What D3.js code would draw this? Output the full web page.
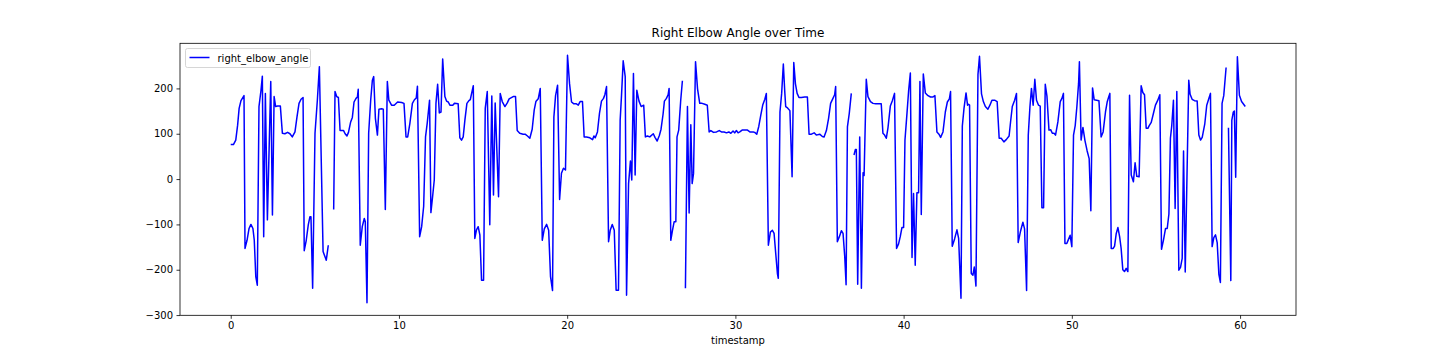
<!DOCTYPE html>
<html>
<head>
<meta charset="utf-8">
<script src="https://cdn.jsdelivr.net/npm/d3@7"></script>
<style>
  html, body { margin: 0; padding: 0; background: #fff; }
  svg text { font-family: "DejaVu Sans", sans-serif; fill: #000; }
</style>
</head>
<body>
<svg id="chart" width="1440" height="360"></svg>
<script>
// ---- data (null marks a gap in the recording) ----
const title = "Right Elbow Angle over Time";
const xLabel = "timestamp";
const seriesName = "right_elbow_angle";
const xTicks = [0, 10, 20, 30, 40, 50, 60];
const yTicks = [-300, -200, -100, 0, 100, 200];

const timestamps = [
  0.00,0.16,0.30,0.41,0.50,0.61,0.79,0.85,0.97,1.09,1.20,1.32,1.40,1.49,1.58,1.68,1.80,1.88,1.96,2.06,2.18,2.38,2.48,2.58,2.67,2.79,2.95,
  3.07,3.22,3.38,3.52,3.66,3.82,3.94,4.06,4.18,4.30,4.37,4.49,4.61,4.71,4.77,4.87,5.01,5.15,5.27,5.49,5.60,5.68,5.80,
  null,
  6.12,6.20,6.30,6.40,6.50,6.60,6.71,6.80,6.91,7.00,7.13,7.23,7.33,7.45,7.53,7.58,7.70,7.82,7.94,8.00,8.10,8.20,8.32,8.42,8.50,8.60,8.72,8.81,8.97,9.07,9.19,9.31,9.40,9.56,9.72,9.92,
  10.16,10.30,10.42,10.52,10.65,10.80,10.92,11.03,11.10,11.23,11.35,11.47,11.58,11.68,11.82,11.90,12.00,12.10,12.20,12.30,12.40,12.50,12.60,12.73,12.83,12.93,13.03,13.20,13.30,13.52,13.62,13.72,13.82,13.92,
  14.04,14.16,14.24,14.32,14.42,14.51,14.61,14.71,14.81,14.91,15.03,15.13,15.25,15.40,15.52,15.62,15.72,15.92,16.02,16.14,16.30,16.44,16.55,16.79,16.93,17.03,17.18,17.38,17.50,17.64,17.78,17.92,
  18.04,18.14,18.28,18.40,18.52,18.64,18.78,18.90,19.01,19.13,19.21,19.31,19.43,19.55,19.66,19.78,19.90,20.02,20.14,20.26,20.40,20.55,20.66,20.77,20.91,21.01,21.15,21.35,21.51,21.59,21.67,21.80,21.92,
  22.04,22.16,22.24,22.34,22.46,22.56,22.68,22.80,22.91,23.05,23.15,23.23,23.33,23.45,23.53,23.65,23.76,23.84,23.94,24.04,24.14,24.27,24.40,24.55,24.65,24.77,24.91,25.12,25.22,25.35,25.48,25.58,25.70,25.78,25.90,
  26.00,26.06,26.16,26.26,26.36,26.46,26.53,26.63,26.75,26.85,
  null,
  27.03,27.15,27.25,27.35,27.43,27.51,27.63,27.75,27.88,28.02,28.18,28.33,28.44,28.54,28.70,28.88,29.04,29.17,29.33,29.47,29.61,29.73,29.86,29.96,30.06,30.16,30.26,30.40,30.56,30.72,30.86,31.06,31.15,31.27,
  31.39,31.51,31.63,31.75,31.84,31.96,32.08,32.20,32.30,32.40,32.50,32.55,32.65,32.75,32.85,32.93,32.99,33.10,33.24,33.37,33.47,33.57,33.67,33.78,33.92,34.12,34.28,34.38,34.52,34.68,34.81,35.01,35.17,35.27,35.41,
  35.54,35.66,35.80,35.90,35.96,36.06,36.18,36.30,36.40,36.50,36.58,36.66,36.77,36.89,
  null,
  37.05,37.13,37.19,37.27,37.39,37.49,37.59,37.65,37.78,37.88,38.03,38.18,38.34,38.47,38.67,38.77,38.87,38.97,39.07,39.21,39.33,39.46,39.58,39.70,39.80,39.90,40.00,40.08,40.20,40.30,40.40,40.50,40.59,40.69,40.79,40.89,40.97,
  41.05,41.17,41.29,41.45,41.60,41.73,41.86,41.98,42.10,42.20,42.34,42.48,42.60,42.72,42.79,42.89,43.03,43.17,43.27,43.41,43.49,43.59,43.71,43.80,43.86,43.92,44.02,44.12,44.20,44.30,44.42,44.51,44.63,44.74,44.86,
  45.01,45.13,45.25,45.41,45.56,45.68,45.80,45.96,46.10,46.27,46.36,46.46,46.60,46.71,46.81,46.95,47.09,47.19,47.31,47.41,47.51,47.60,47.70,47.80,47.90,48.02,48.12,48.22,48.32,48.42,48.52,48.64,48.74,48.84,48.94,
  49.03,49.17,49.31,49.41,49.50,49.59,49.70,49.80,49.90,50.00,50.10,50.20,50.30,50.40,50.45,50.55,50.66,50.78,50.91,51.03,51.13,51.23,51.33,51.47,51.61,51.74,51.86,52.00,52.10,52.20,52.26,52.34,52.46,52.54,52.64,
  52.74,52.84,52.93,53.03,53.13,53.23,53.33,53.43,53.53,53.66,53.76,53.86,54.00,54.12,54.22,54.32,54.42,54.52,54.60,54.72,54.87,54.97,55.11,55.23,55.33,55.45,55.57,55.67,55.77,55.86,55.94,56.04,56.14,56.24,
  56.36,56.46,56.56,56.64,56.74,56.95,57.03,57.15,57.29,57.45,57.55,57.65,57.75,57.90,58.02,58.14,58.24,58.34,58.44,58.54,58.64,58.74,58.83,58.93,59.03,59.17,
  null,
  59.31,59.45,59.51,59.60,59.66,59.74,59.84,59.96,60.09,60.31
];

const angles = [
  76,76,86,119,156,173,184,-153,-135,-109,-100,-109,-135,-215,-234,160,196,227,-127,189,-90,215,-79,182,160,161,161,
  101,100,103,100,93,104,137,167,176,180,-158,-135,-101,-83,-83,-241,101,174,248,-160,-171,-179,-146,
  null,
  -67,193,182,180,107,107,107,100,95,103,126,136,170,178,181,198,-146,-105,-87,-94,-273,101,174,218,226,134,97,154,155,154,-67,215,174,163,163,170,
  169,167,93,93,123,167,175,179,205,-127,-105,-60,93,123,174,-74,-39,-2,167,209,146,148,265,182,172,170,163,163,167,166,91,86,93,130,
  167,173,175,189,206,-131,-112,-105,-123,-223,-223,156,193,-101,183,-35,168,-39,189,171,160,168,177,182,182,107,101,99,99,95,90,110,
  152,171,177,200,-135,-110,-100,-113,-215,-246,137,184,207,-45,13,24,20,273,211,170,166,166,163,171,171,93,93,91,87,95,91,104,145,
  172,178,186,204,-138,-113,-100,-113,-245,-245,130,184,261,226,-256,-10,40,-2,233,9,196,172,160,163,93,95,93,100,92,84,96,110,143,172,178,
  186,200,-135,-113,-94,-94,93,108,174,217,
  null,
  -241,160,-75,120,-10,12,259,199,167,167,165,163,104,107,103,104,107,104,104,102,104,101,106,102,107,102,104,108,108,108,104,104,103,99,
  116,141,164,176,189,-146,-117,-113,-120,-165,-209,-219,148,189,254,196,160,157,151,5,257,210,189,180,180,181,181,99,99,102,97,99,94,93,107,
  134,167,178,186,204,-138,-127,-114,-120,-171,-233,115,145,189,
  null,
  53,65,65,-232,93,-241,14,8,220,182,171,167,166,166,166,101,97,90,113,161,173,189,-153,-143,-127,-107,-107,86,145,196,234,-173,-32,-190,-30,-30,215,
  -78,232,190,184,181,181,184,104,99,92,104,148,170,177,193,-148,-132,-112,-131,-263,117,156,190,163,165,163,-208,-212,-194,-236,231,271,188,171,160,
  154,163,174,174,171,90,90,82,87,95,127,160,174,189,-140,-115,-95,-110,-246,97,160,200,163,220,174,163,161,-63,-63,209,183,108,109,101,101,
  97,126,171,178,189,-142,-142,-133,-124,-149,97,118,160,211,259,86,114,85,62,45,-70,201,175,174,173,93,104,148,170,182,189,-153,-153,-148,-120,
  -107,-127,-153,-200,-204,-197,-204,185,9,-6,36,6,5,206,191,186,112,112,118,125,148,163,174,186,-155,-134,-109,-109,-77,90,118,174,-65,193,
  -201,-195,-175,62,-205,218,187,176,173,172,97,86,92,121,163,177,189,-149,-129,-123,-140,-210,-228,167,184,246,
  null,
  113,-224,130,148,150,4,270,185,171,160
];

// ---- layout ----
const W = 1440, H = 360;
const plot = { left: 180, right: 1296, top: 43.3, bottom: 315.3 };

const svg = d3.select("#chart");
svg.append("rect").attr("width", W).attr("height", H).attr("fill", "#fff");

const data = timestamps.map((t, i) => ({ t, v: angles[i] }));

const x = d3.scaleLinear().domain([-3.015, 63.325]).range([plot.left, plot.right]);
const y = d3.scaleLinear().domain([-300.5, 299.5]).range([plot.bottom, plot.top]);

// clip
svg.append("clipPath").attr("id", "clip")
  .append("rect")
  .attr("x", plot.left).attr("y", plot.top)
  .attr("width", plot.right - plot.left).attr("height", plot.bottom - plot.top);

const line = d3.line()
  .defined(d => d.t != null && d.v != null)
  .x(d => x(d.t))
  .y(d => y(d.v));

svg.append("path")
  .datum(data)
  .attr("clip-path", "url(#clip)")
  .attr("fill", "none")
  .attr("stroke", "#0000ff")
  .attr("stroke-width", 1.5)
  .attr("stroke-linejoin", "round")
  .attr("d", line);

// axes
const xAxis = d3.axisBottom(x).tickValues(xTicks).tickSize(3.5).tickPadding(3.5).tickFormat(d3.format("d"));
const yAxis = d3.axisLeft(y).tickValues(yTicks).tickSize(3.5).tickPadding(3.5).tickFormat(d3.format("d"));

const gx = svg.append("g").attr("transform", `translate(0,${plot.bottom})`).call(xAxis);
const gy = svg.append("g").attr("transform", `translate(${plot.left},0)`).call(yAxis);
[gx, gy].forEach(g => {
  g.select(".domain").remove();
  g.selectAll(".tick line").attr("stroke", "#000").attr("stroke-width", 0.8);
  g.selectAll(".tick text").attr("font-size", 10).attr("font-family", "DejaVu Sans, sans-serif").attr("fill", "#000");
});
// replace unicode minus with hyphen-like minus as in matplotlib (uses U+2212)
gy.selectAll(".tick text").text(d => d < 0 ? "\u2212" + Math.abs(d) : String(d));

// spines
svg.append("rect")
  .attr("x", plot.left).attr("y", plot.top)
  .attr("width", plot.right - plot.left).attr("height", plot.bottom - plot.top)
  .attr("fill", "none").attr("stroke", "#000").attr("stroke-width", 0.8);

// title & label
svg.append("text")
  .attr("x", (plot.left + plot.right) / 2).attr("y", 36.5)
  .attr("text-anchor", "middle").attr("font-size", 12)
  .text(title);

svg.append("text")
  .attr("x", (plot.left + plot.right) / 2).attr("y", 344)
  .attr("text-anchor", "middle").attr("font-size", 10)
  .text(xLabel);

// legend
const lg = svg.append("g");
lg.append("rect")
  .attr("x", 185.5).attr("y", 48.5).attr("width", 125).attr("height", 19)
  .attr("rx", 2).attr("ry", 2)
  .attr("fill", "rgba(255,255,255,0.8)").attr("stroke", "#cccccc").attr("stroke-width", 0.8);
lg.append("line")
  .attr("x1", 189.5).attr("x2", 209.5).attr("y1", 57.5).attr("y2", 57.5)
  .attr("stroke", "#0000ff").attr("stroke-width", 1.5);
lg.append("text")
  .attr("x", 217.5).attr("y", 61.5).attr("font-size", 10)
  .text(seriesName);
</script>
</body>
</html>
